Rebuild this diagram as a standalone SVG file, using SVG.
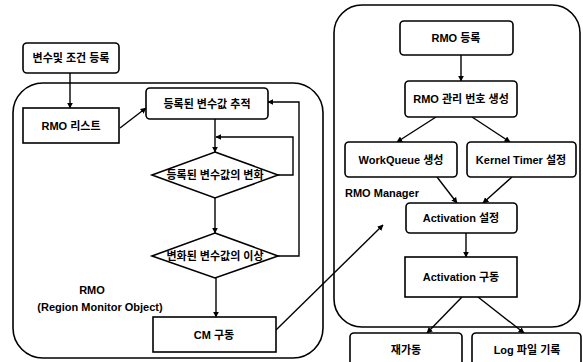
<svg xmlns="http://www.w3.org/2000/svg" width="583" height="362" viewBox="0 0 583 362">
<defs>
<style>
.box{fill:#fff;stroke:#000;stroke-width:1.6}
.cont{fill:none;stroke:#000;stroke-width:1.6}
.ln{fill:none;stroke:#000;stroke-width:1.4}
text{font-family:"Liberation Sans","Noto Sans CJK KR",sans-serif;font-weight:bold;font-size:11px;fill:#000}
.c{text-anchor:middle;dominant-baseline:central}
</style>
<marker id="ah" viewBox="0 0 10 10" refX="9" refY="5" markerWidth="6" markerHeight="6" orient="auto" markerUnits="userSpaceOnUse">
<path d="M0,0 L10,5 L0,10 z" fill="#000"/>
</marker>
</defs>
<rect width="583" height="362" fill="#fff"/>

<g id="containers">
<rect class="cont" x="13" y="83" width="310" height="275" rx="30"/>
<rect class="cont" x="334" y="5" width="246" height="322" rx="28"/>
</g>

<g id="connectors">
<line class="ln" x1="70" y1="73" x2="70" y2="108" marker-end="url(#ah)"/>
<line class="ln" x1="120" y1="128" x2="146" y2="108" marker-end="url(#ah)"/>
<line class="ln" x1="215" y1="119" x2="215" y2="152" marker-end="url(#ah)"/>
<polyline class="ln" points="277,175 293,175 293,137 216,137" marker-end="url(#ah)"/>
<line class="ln" x1="215" y1="198" x2="215" y2="233" marker-end="url(#ah)"/>
<polyline class="ln" points="277,256 299,256 299,102 268,102" marker-end="url(#ah)"/>
<line class="ln" x1="216" y1="277" x2="216" y2="317" marker-end="url(#ah)"/>
<line class="ln" x1="276" y1="330" x2="383" y2="225" marker-end="url(#ah)"/>
<line class="ln" x1="461" y1="55" x2="461" y2="81" marker-end="url(#ah)"/>
<line class="ln" x1="436" y1="117" x2="397" y2="142" marker-end="url(#ah)"/>
<line class="ln" x1="472" y1="117" x2="510" y2="142" marker-end="url(#ah)"/>
<line class="ln" x1="437" y1="177" x2="457" y2="203" marker-end="url(#ah)"/>
<line class="ln" x1="512" y1="177" x2="483" y2="203" marker-end="url(#ah)"/>
<line class="ln" x1="466" y1="233" x2="466" y2="257" marker-end="url(#ah)"/>
<line class="ln" x1="462" y1="297" x2="427" y2="333" marker-end="url(#ah)"/>
<line class="ln" x1="478" y1="297" x2="524" y2="333" marker-end="url(#ah)"/>
</g>

<g id="n-register">
<rect class="box" x="23" y="43" width="96" height="30" rx="4"/>
<text class="c" x="71" y="58">변수및 조건 등록</text>
</g>
<g id="n-rmolist">
<rect class="box" x="23" y="108" width="96" height="35"/>
<text class="c" x="71" y="126">RMO 리스트</text>
</g>
<g id="n-track">
<rect class="box" x="146" y="88" width="122" height="31" rx="4"/>
<text class="c" x="207" y="104">등록된 변수값 추적</text>
</g>
<g id="n-change">
<polygon class="box" points="215,152 278,175 215,198 152,175"/>
<text class="c" x="215" y="175">등록된 변수값의 변화</text>
</g>
<g id="n-anomaly">
<polygon class="box" points="215,233 278,256 215,278 152,256"/>
<text class="c" x="215" y="256">변화된 변수값의 이상</text>
</g>
<g id="n-rmolabel">
<text class="c" x="92" y="290" font-size="10">RMO</text>
<text class="c" x="100" y="307" font-size="10">(Region Monitor Object)</text>
</g>
<g id="n-cm">
<rect class="box" x="153" y="317" width="123" height="35"/>
<text class="c" x="214" y="335">CM 구동</text>
</g>

<g id="n-rmoreg">
<rect class="box" x="400" y="21" width="113" height="34" rx="4"/>
<text class="c" x="456" y="38">RMO 등록</text>
</g>
<g id="n-rmonum">
<rect class="box" x="405" y="81" width="112" height="36" rx="4"/>
<text class="c" x="461" y="99">RMO 관리 번호 생성</text>
</g>
<g id="n-wq">
<rect class="box" x="345" y="142" width="112" height="35" rx="4"/>
<text class="c" x="401" y="160">WorkQueue 생성</text>
</g>
<g id="n-timer">
<rect class="box" x="467" y="142" width="109" height="35" rx="4"/>
<text class="c" x="521" y="160">Kernel Timer 설정</text>
</g>
<g id="n-mgrlabel">
<text x="345" y="197" font-size="10">RMO Manager</text>
</g>
<g id="n-actset">
<rect class="box" x="406" y="203" width="111" height="30" rx="4"/>
<text class="c" x="461" y="218">Activation 설정</text>
</g>
<g id="n-actrun">
<rect class="box" x="405" y="257" width="112" height="40"/>
<text class="c" x="461" y="277">Activation 구동</text>
</g>
<g id="n-restart">
<rect class="box" x="350" y="333" width="112" height="34" rx="4"/>
<text class="c" x="406" y="350">재가동</text>
</g>
<g id="n-log">
<rect class="box" x="472" y="333" width="109" height="34" rx="4"/>
<text class="c" x="527" y="350">Log 파일 기록</text>
</g>
</svg>
